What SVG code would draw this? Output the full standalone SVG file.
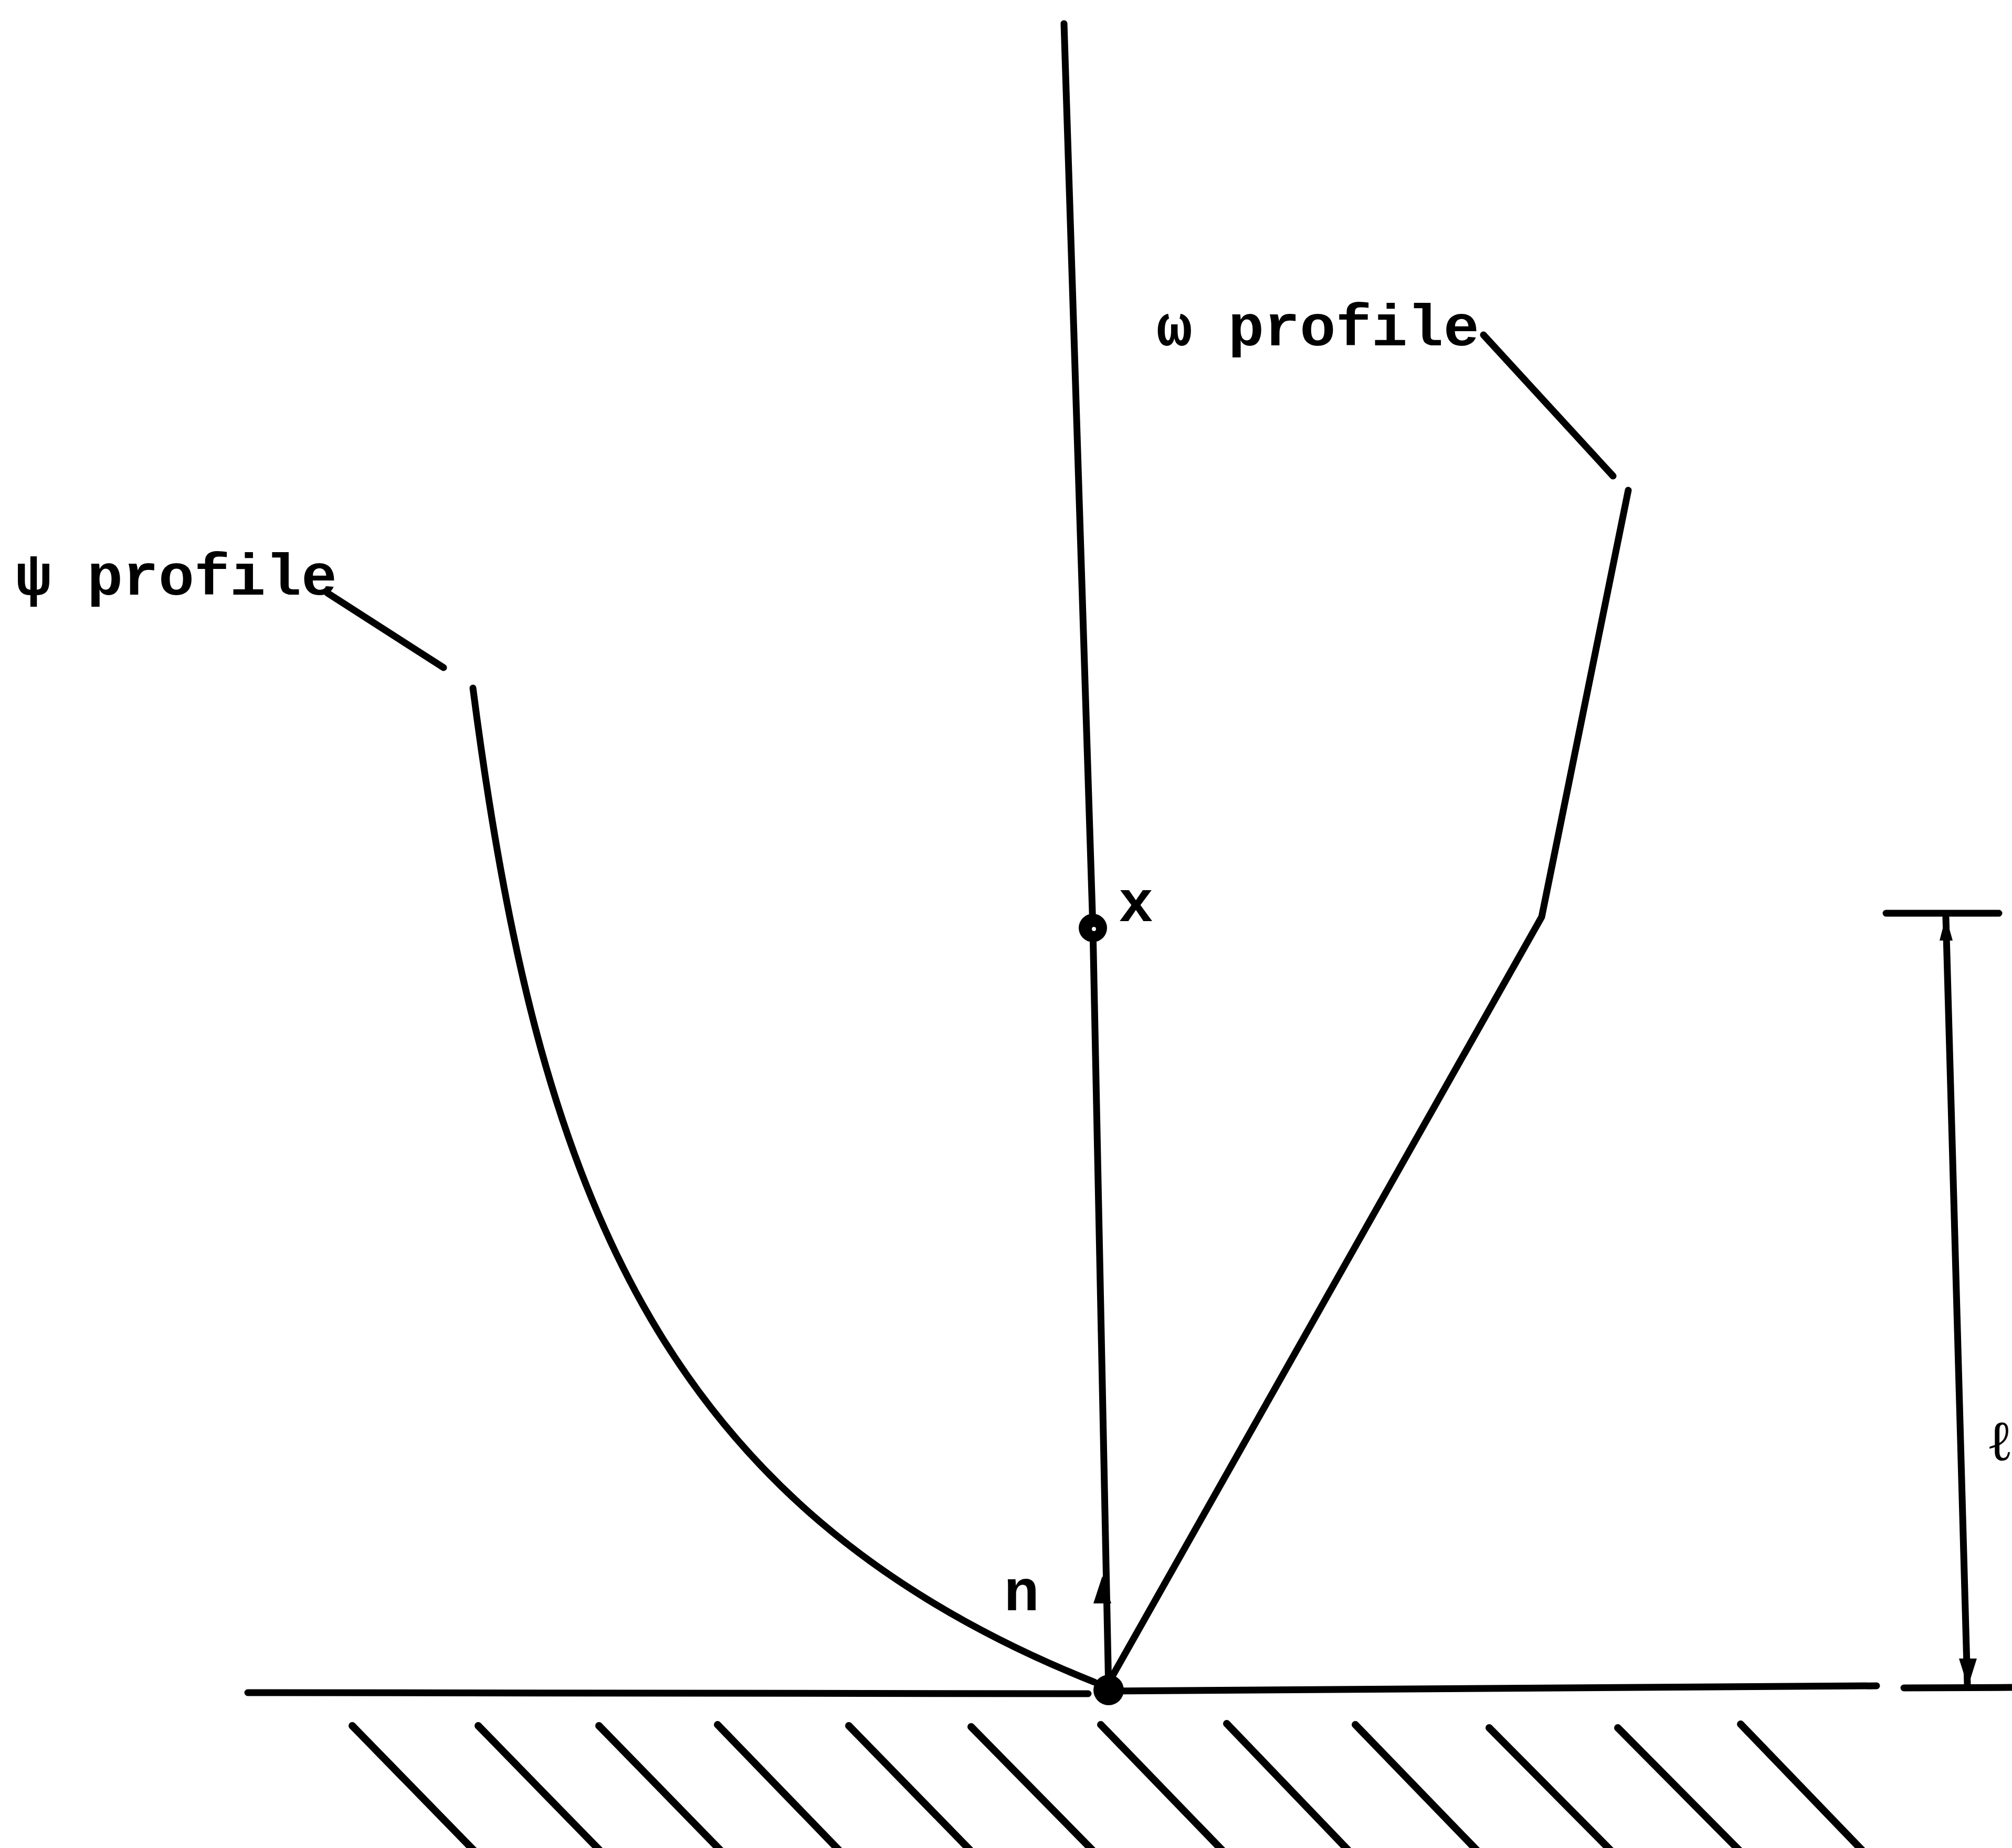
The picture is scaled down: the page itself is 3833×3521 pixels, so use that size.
<svg xmlns="http://www.w3.org/2000/svg" width="3833" height="3521" viewBox="0 0 3833 3521">
<style>
.ln{fill:none;stroke:#000;stroke-width:13;stroke-linecap:round;stroke-linejoin:round}
.hatch{fill:none;stroke:#000;stroke-width:14;stroke-linecap:round}
.lbl{font-family:"Liberation Mono","DejaVu Sans Mono",monospace;font-weight:bold;font-size:112px;fill:#000}
.sym{font-family:"Liberation Serif","DejaVu Serif",serif;font-size:108px;fill:#000}
</style>
<rect width="3833" height="3521" fill="#fff"/>
<g id="wall">
<line class="ln" x1="472" y1="3225" x2="2073" y2="3227"/>
<line class="ln" x1="2112" y1="3222" x2="3575" y2="3212"/>
<line class="ln" x1="3627" y1="3216" x2="3840" y2="3215"/>
<g id="hatching">
<line class="hatch" x1="671" y1="3288" x2="908" y2="3531"/>
<line class="hatch" x1="911" y1="3288" x2="1148" y2="3531"/>
<line class="hatch" x1="1141" y1="3288" x2="1378" y2="3531"/>
<line class="hatch" x1="1367" y1="3286" x2="1604" y2="3531"/>
<line class="hatch" x1="1617" y1="3288" x2="1854" y2="3531"/>
<line class="hatch" x1="1850" y1="3290" x2="2087" y2="3531"/>
<line class="hatch" x1="2097" y1="3286" x2="2334" y2="3531"/>
<line class="hatch" x1="2337" y1="3284" x2="2574" y2="3531"/>
<line class="hatch" x1="2582" y1="3286" x2="2819" y2="3531"/>
<line class="hatch" x1="2837" y1="3292" x2="3074" y2="3531"/>
<line class="hatch" x1="3082" y1="3292" x2="3319" y2="3531"/>
<line class="hatch" x1="3316" y1="3285" x2="3553" y2="3531"/>
</g>
</g>
<g id="normal-axis">
<polyline class="ln" points="2027,45 2082,1768 2112,3220"/>
<polygon points="2100,3003 2083,3055 2117,3055" fill="#000"/>
</g>
<g id="psi-profile">
<path class="ln" d="M901,1311 C1022,2252 1248,2872 2085,3205"/>
<line class="ln" x1="624" y1="1130" x2="845" y2="1272"/>
<text class="lbl" x="30" y="1133" textLength="612" lengthAdjust="spacingAndGlyphs">ψ profile</text>
</g>
<g id="omega-profile">
<polyline class="ln" points="3102,934 2937,1747 2120,3192"/>
<line class="ln" x1="2826" y1="638" x2="3073" y2="907"/>
<text class="lbl" x="2203" y="658" textLength="615" lengthAdjust="spacingAndGlyphs">ω profile</text>
</g>
<g id="point-x">
<circle cx="2082" cy="1768" r="27" fill="#000"/>
<circle cx="2084" cy="1770" r="4" fill="#fff"/>
<text class="lbl" x="2164" y="1755" text-anchor="middle">x</text>
</g>
<g id="origin">
<circle cx="2112" cy="3220" r="29" fill="#000"/>
<text class="lbl" x="1946" y="3068" text-anchor="middle">n</text>
</g>
<g id="dimension">
<line class="ln" x1="3593" y1="1740" x2="3808" y2="1740"/>
<line class="ln" x1="3707" y1="1748" x2="3748" y2="3210"/>
<polygon points="3707,1746 3695,1792 3720,1792" fill="#000"/>
<polygon points="3749,3214 3732,3160 3766,3160" fill="#000"/>
<text class="sym" x="3784" y="2782">ℓ</text>
</g>
</svg>
